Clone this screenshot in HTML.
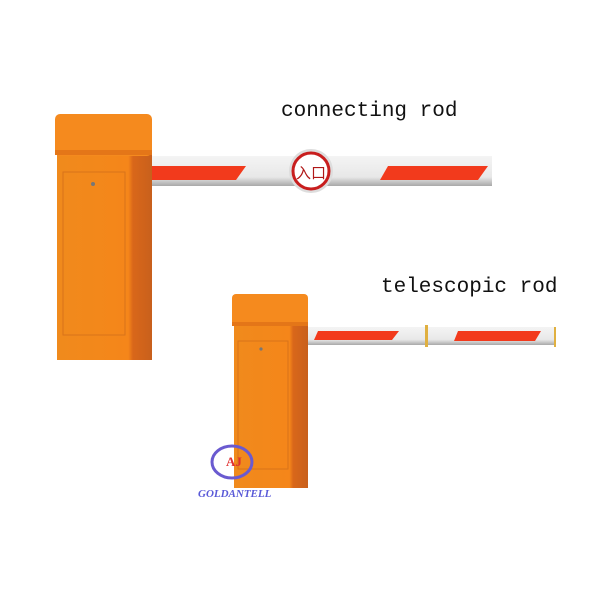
<!DOCTYPE html>
<html><head><style>
body{margin:0;width:600px;height:600px;background:#fff;overflow:hidden;position:relative;font-family:"Liberation Mono",monospace}
div{position:absolute}
.t{font-size:21px;color:#111;white-space:nowrap}
</style></head><body>
<div class="t" style="left:281px;top:100px">connecting rod</div>
<div class="t" style="left:381px;top:276px">telescopic rod</div>
<svg width="600" height="600" style="position:absolute;left:0;top:0">
<defs>
<linearGradient id="arm" x1="0" y1="0" x2="0" y2="1"><stop offset="0" stop-color="#f4f4f4"/><stop offset=".7" stop-color="#e8e8e8"/><stop offset="1" stop-color="#a8a8a8"/></linearGradient>
<linearGradient id="bod" x1="0" y1="0" x2="1" y2="0"><stop offset="0" stop-color="#f08a1c"/><stop offset=".75" stop-color="#f5861a"/><stop offset=".8" stop-color="#d9671a"/><stop offset="1" stop-color="#c8601c"/></linearGradient>
</defs>
<!-- big arm -->
<rect x="150" y="156" width="342" height="30" fill="url(#arm)"/>
<polygon points="152,166 246,166 236,180 152,180" fill="#f23a1c"/>
<polygon points="388,166 488,166 478,180 380,180" fill="#f23a1c"/>
<circle cx="311" cy="171" r="22" fill="#ddd"/>
<circle cx="311" cy="171" r="18" fill="#fff" stroke="#c81e1e" stroke-width="3"/>
<text x="311" y="178" font-size="15" text-anchor="middle" fill="#b01818" font-family="Noto Sans CJK SC,sans-serif">入口</text>
<!-- big cabinet -->
<rect x="57" y="152" width="95" height="208" fill="url(#bod)"/>
<rect x="55" y="114" width="97" height="42" rx="5" fill="#f58a1e"/>
<rect x="55" y="150" width="97" height="5" fill="#e47618"/>
<rect x="63" y="172" width="62" height="163" fill="none" stroke="#d8731a" stroke-width="1"/>
<circle cx="93" cy="184" r="2" fill="#777"/>
<!-- small arm -->
<rect x="306" y="327" width="250" height="18" fill="url(#arm)"/>
<polygon points="318,331 399,331 392,340 314,340" fill="#f23a1c"/>
<polygon points="458,331 541,331 535,341 454,341" fill="#f23a1c"/>
<rect x="425" y="325" width="3" height="22" fill="#e0b040"/>
<rect x="554" y="327" width="2" height="20" fill="#e0b040"/>
<!-- small cabinet -->
<rect x="234" y="322" width="74" height="166" fill="url(#bod)"/>
<rect x="232" y="294" width="76" height="32" rx="4" fill="#f58a1e"/>
<rect x="232" y="322" width="76" height="4" fill="#e47618"/>
<rect x="238" y="341" width="50" height="128" fill="none" stroke="#d8731a"/>
<circle cx="261" cy="349" r="1.6" fill="#777"/>
<!-- logo -->
<ellipse cx="232" cy="462" rx="20" ry="16" fill="none" stroke="#6a5ad0" stroke-width="3"/>
<text x="234" y="466" font-size="13" font-weight="bold" fill="#e03030" text-anchor="middle" font-family="Liberation Serif,serif">AJ</text>
<text x="198" y="497" font-size="11" font-style="italic" font-weight="bold" fill="#5a5ad8" font-family="Liberation Serif,serif">GOLDANTELL</text>
</svg>
</body></html>
